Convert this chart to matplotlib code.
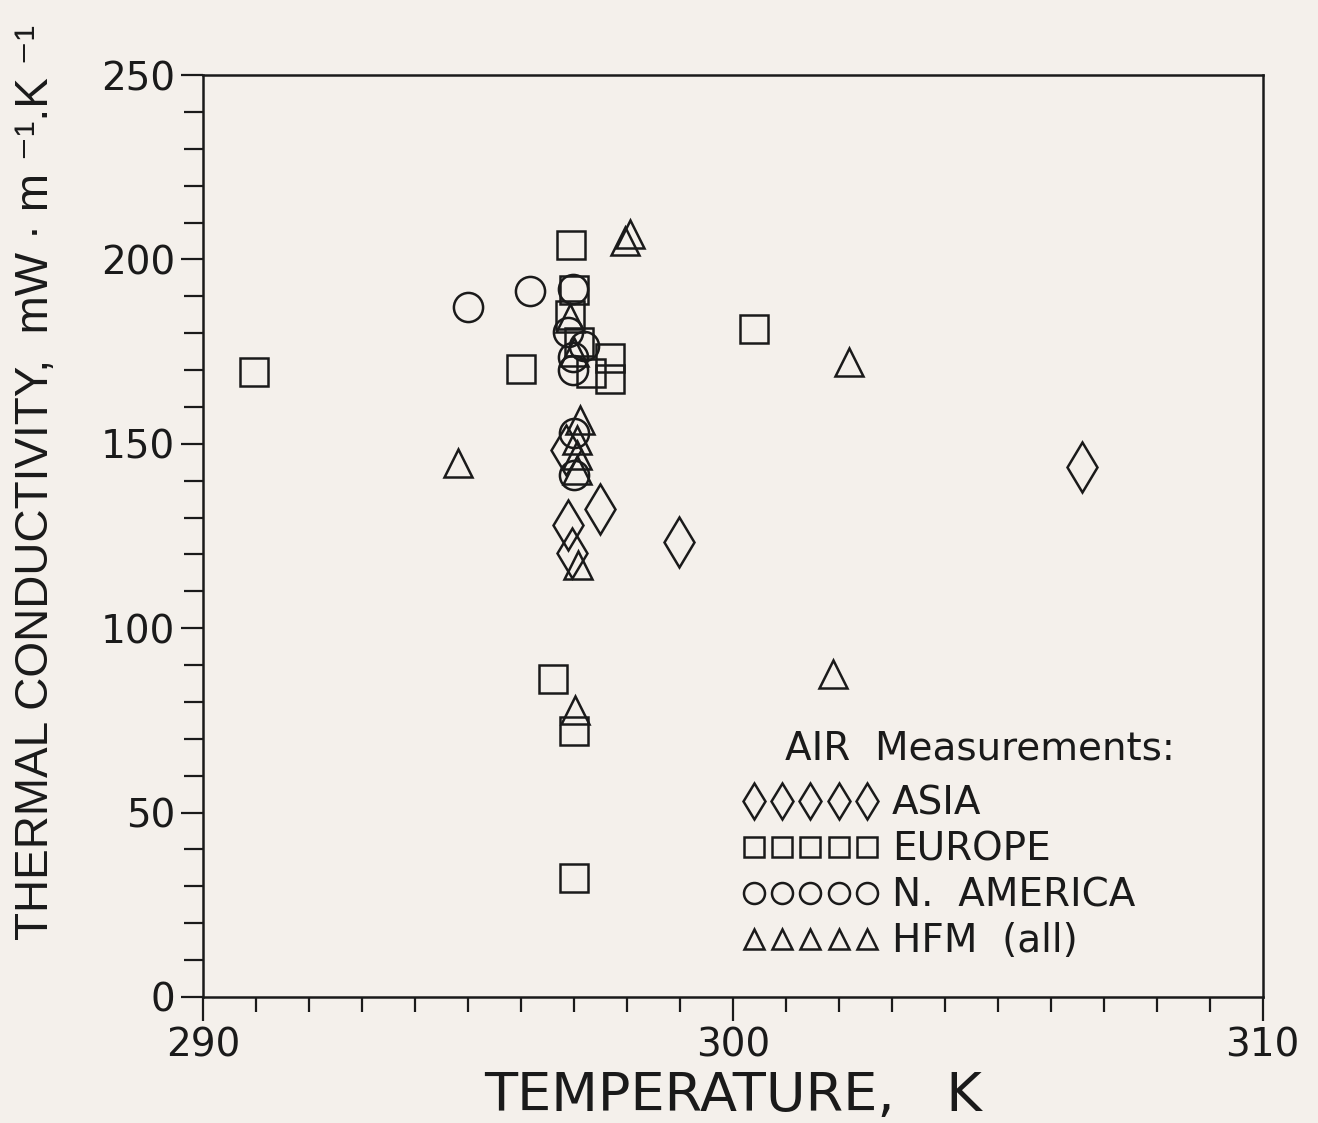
import matplotlib.pyplot as plt
from matplotlib.ticker import MultipleLocator

# Данные (T в K, теплопроводность в mW/(m K))
asia_t = [306.6, 298.98, 297.49, 296.89, 296.96, 296.85]
asia_k = [143.7, 123.4, 132.3, 128.0, 120.4, 148.3]

europe_t = [290.96, 296.94, 296.0, 300.40, 296.60, 297.0, 297.0,
            297.68, 297.68, 297.32, 296.92, 297.0, 297.1]
europe_k = [169.5, 203.9, 170.3, 181.1, 86.2, 72.1, 32.3,
            173.3, 167.6, 169.2, 185.0, 191.7, 177.6]

namer_t = [295.0, 296.17, 296.98, 296.89, 297.2, 296.98, 296.98, 297.0, 297.0]
namer_k = [187.1, 191.4, 192.0, 180.3, 176.5, 170.0, 173.5, 152.9, 141.5]

hfm_t = [298.06, 297.96, 294.81, 302.2, 301.9, 297.02, 297.08,
         296.92, 297.12, 297.05, 297.05, 297.05, 297.0]
hfm_k = [206.9, 205.0, 144.8, 172.2, 87.6, 77.8, 117.1,
         184.0, 156.5, 151.0, 147.0, 143.0, 175.0]

bg = '#f4f0eb'
ink = '#1a1a1a'

fig = plt.figure(figsize=(13.18, 11.23), dpi=100, facecolor=bg)
ax = fig.add_axes([0.154, 0.1122, 0.804, 0.821])
ax.set_facecolor(bg)

kw = dict(ls='none', mfc='none', mec=ink, mew=1.8)
ax.plot(asia_t, asia_k, marker='d', ms=25, label='ASIA', **kw)
ax.plot(europe_t, europe_k, marker='s', ms=20, label='EUROPE', **kw)
ax.plot(namer_t, namer_k, marker='o', ms=21, label='N.  AMERICA', **kw)
ax.plot(hfm_t, hfm_k, marker='^', ms=20, label='HFM  (all)', **kw)

ax.set_xlim(290, 310)
ax.set_ylim(0, 250)
ax.xaxis.set_major_locator(MultipleLocator(10))
ax.xaxis.set_minor_locator(MultipleLocator(1))
ax.yaxis.set_major_locator(MultipleLocator(50))
ax.yaxis.set_minor_locator(MultipleLocator(10))

for s in ax.spines.values():
    s.set_linewidth(1.8)
    s.set_color(ink)
ax.tick_params(which='major', direction='out', length=17, width=1.6,
               colors=ink, labelsize=28, pad=4, top=False, right=False)
ax.tick_params(which='minor', direction='out', length=11, width=1.6,
               colors=ink, top=False, right=False)
ax.tick_params(axis='y', which='major', length=16)
ax.tick_params(axis='y', which='minor', length=14)

ax.set_xlabel('TEMPERATURE,   K', fontsize=39, color=ink, labelpad=4)
ax.set_ylabel('THERMAL CONDUCTIVITY,  mW · m ⁻¹.K ⁻¹', fontsize=33,
              color=ink, family=['Liberation Sans', 'DejaVu Sans'])
ax.yaxis.set_label_coords(-0.137, 0.558)

ax.text(304.66, 67.5, 'AIR  Measurements:', fontsize=28, color=ink,
        ha='center', va='center')
leg = ax.legend(loc='upper left', bbox_to_anchor=(0.509, 0.230),
                frameon=False, numpoints=5, markerscale=0.72, fontsize=28,
                handlelength=3.5, handletextpad=0.35, labelspacing=0.2,
                borderaxespad=0, borderpad=0)
for t in leg.get_texts():
    t.set_color(ink)

fig.savefig('out.png', dpi=100, facecolor=bg)
